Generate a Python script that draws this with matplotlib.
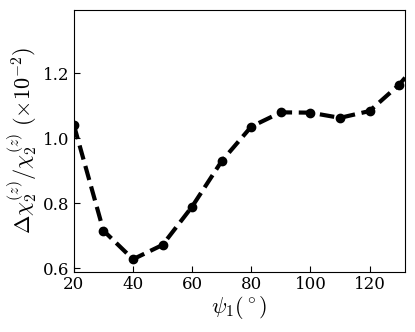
import matplotlib
matplotlib.use("Agg")
import matplotlib.pyplot as plt

psi = [20, 30, 40, 50, 60, 70, 80, 90, 100, 110, 120, 130, 140]
ratio = [1.040, 0.715, 0.627, 0.671, 0.789, 0.929, 1.035, 1.079, 1.078, 1.062, 1.083, 1.164, 1.27]

plt.rcParams['font.family'] = 'serif'
plt.rcParams['font.serif'] = ['DejaVu Serif']
plt.rcParams['mathtext.fontset'] = 'cm'

fig = plt.figure(figsize=(4.15, 3.32), dpi=100)
ax = fig.add_axes([0.178, 0.181, 0.798, 0.789])
ax.plot(psi, ratio, 'k--', lw=3, marker='o', ms=6, dashes=(3.5, 1.6))
ax.set_xlim(20, 132)
ax.set_ylim(0.588, 1.394)
ax.set_xticks([20, 40, 60, 80, 100, 120])
ax.set_yticks([0.6, 0.8, 1.0, 1.2])
ax.set_xticklabels(['20', '40', '60', '80', '100', '120'])
ax.set_yticklabels(['0.6', '0.8', '1.0', '1.2'])
ax.tick_params(direction='in', labelsize=12, length=4, pad=3)
ax.set_xlabel(r'$\psi_1(^\circ)$', fontsize=16, labelpad=1)
ax.set_ylabel(r'$\Delta\chi_2^{(z)}/\chi_2^{(z)}\ (\times10^{-2})$', fontsize=16, labelpad=3)
fig.savefig('out.png', dpi=100)
